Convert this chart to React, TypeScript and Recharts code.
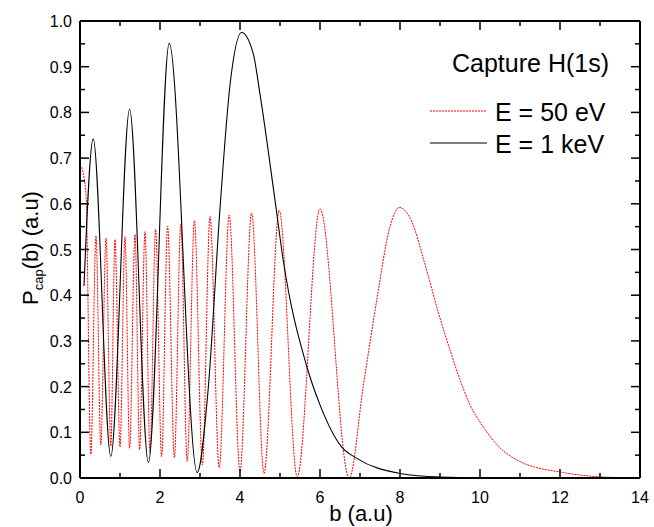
import React from "react";
import { LineChart, Line, XAxis, YAxis } from "recharts";

// E = 50 eV, P_cap(b) (b in a.u.)
const b50 = [0.04, 0.15, 0.27, 0.4, 0.52, 0.65, 0.77, 0.875, 1.0, 1.125, 1.24, 1.375, 1.49, 1.625, 1.75, 1.89, 2.04, 2.19, 2.36, 2.52, 2.68, 2.86, 3.06, 3.25, 3.48, 3.73, 4.0, 4.29, 4.6, 4.98, 5.43, 6.0, 6.73, 7.08, 7.42, 7.75, 7.98, 8.3, 8.6, 9.0, 9.25, 9.5, 9.75, 10.08, 10.5, 11.0, 12.08, 13.1, 14.0];
const p50 = [0.68, 0.62, 0.052, 0.53, 0.072, 0.525, 0.07, 0.522, 0.068, 0.528, 0.065, 0.533, 0.062, 0.539, 0.055, 0.544, 0.047, 0.551, 0.044, 0.555, 0.036, 0.563, 0.029, 0.572, 0.022, 0.575, 0.015, 0.58, 0.01, 0.586, 0.003, 0.589, 0.0, 0.2, 0.39, 0.55, 0.592, 0.56, 0.475, 0.35, 0.28, 0.215, 0.16, 0.112, 0.066, 0.036, 0.012, 0.002, 0.0];

// E = 1 keV
const b1k = [0.1, 0.33, 0.77, 1.24, 1.71, 2.23, 2.93, 3.2, 3.5, 3.75, 4.04, 4.33, 4.5, 4.875, 5.08, 5.67, 6.0, 6.54, 6.92, 8.0, 9.0, 10.0, 14.0];
const p1k = [0.42, 0.742, 0.047, 0.807, 0.034, 0.951, 0.012, 0.19, 0.59, 0.86, 0.975, 0.929, 0.84, 0.608, 0.477, 0.244, 0.16, 0.068, 0.043, 0.01, 0.002, 0.0005, 0.0];

const xTicks = [0, 1, 2, 3, 4, 5, 6, 7, 8, 9, 10, 11, 12, 13, 14];
const yTicks = [0, 0.05, 0.1, 0.15, 0.2, 0.25, 0.3, 0.35, 0.4, 0.45, 0.5, 0.55, 0.6, 0.65, 0.7, 0.75, 0.8, 0.85, 0.9, 0.95, 1.0];

const data50 = b50.map((b, i) => ({ b, p: p50[i] }));
const data1k = b1k.map((b, i) => ({ b, p: p1k[i] }));

const FONT = "'Liberation Sans', Arial, sans-serif";
const MAJOR = 9;
const MINOR = 5;

const isMajorX = (v: number) => Math.round(v) % 2 === 0;
const isMajorY = (v: number) => Math.round(v * 100) % 10 === 0;

const BottomTick = ({ x, y, payload }: any) => {
  const major = isMajorX(payload.value);
  return (
    <g>
      <line x1={x} x2={x} y1={y} y2={y - (major ? MAJOR : MINOR)} stroke="#000" strokeWidth={1.5} />
      {major && (
        <text x={x} y={y + 25} textAnchor="middle" fontSize={16} fontFamily={FONT} fill="#000">
          {payload.value}
        </text>
      )}
    </g>
  );
};

const TopTick = ({ x, y, payload }: any) => {
  const major = isMajorX(payload.value);
  return <line x1={x} x2={x} y1={y} y2={y + (major ? MAJOR : MINOR)} stroke="#000" strokeWidth={1.5} />;
};

const LeftTick = ({ x, y, payload }: any) => {
  const major = isMajorY(payload.value);
  return (
    <g>
      <line x1={x} x2={x + (major ? MAJOR : MINOR)} y1={y} y2={y} stroke="#000" strokeWidth={1.5} />
      {major && (
        <text x={x - 8} y={y + 6} textAnchor="end" fontSize={16} fontFamily={FONT} fill="#000">
          {payload.value.toFixed(1)}
        </text>
      )}
    </g>
  );
};

const RightTick = ({ x, y, payload }: any) => {
  const major = isMajorY(payload.value);
  return <line x1={x} x2={x - (major ? MAJOR : MINOR)} y1={y} y2={y} stroke="#000" strokeWidth={1.5} />;
};

export default function App() {
  return (
    <div style={{ position: "absolute", left: 0, top: 0, width: 654, height: 527, background: "#fff" }}>
      <LineChart width={654} height={527} margin={{ top: 1, right: 4, bottom: 19, left: 20 }}>
        <XAxis
          dataKey="b"
          type="number"
          domain={[0, 14]}
          ticks={xTicks}
          interval={0}
          tickSize={0}
          tickMargin={0}
          tickLine={false}
          tick={<BottomTick />}
          height={30}
          axisLine={{ stroke: "#000", strokeWidth: 2 }}
          allowDataOverflow
        />
        <XAxis
          xAxisId="top"
          orientation="top"
          dataKey="b"
          type="number"
          domain={[0, 14]}
          ticks={xTicks}
          interval={0}
          tickSize={0}
          tickMargin={0}
          tickLine={false}
          tick={<TopTick />}
          height={20}
          axisLine={{ stroke: "#000", strokeWidth: 2 }}
          allowDataOverflow
        />
        <YAxis
          type="number"
          domain={[0, 1]}
          ticks={yTicks}
          interval={0}
          tickSize={0}
          tickMargin={0}
          tickLine={false}
          tick={<LeftTick />}
          width={60}
          axisLine={{ stroke: "#000", strokeWidth: 2 }}
          allowDataOverflow
        />
        <YAxis
          yAxisId="right"
          orientation="right"
          type="number"
          domain={[0, 1]}
          ticks={yTicks}
          interval={0}
          tickSize={0}
          tickMargin={0}
          tickLine={false}
          tick={<RightTick />}
          width={10}
          axisLine={{ stroke: "#000", strokeWidth: 2 }}
          allowDataOverflow
        />
        <Line
          data={data50}
          dataKey="p"
          type="monotone"
          stroke="#ff0000"
          strokeWidth={1}
          strokeDasharray="2 1"
          dot={false}
          isAnimationActive={false}
        />
        <Line
          data={data1k}
          dataKey="p"
          type="monotone"
          stroke="#000"
          strokeWidth={1.1}
          dot={false}
          isAnimationActive={false}
        />
      </LineChart>
      <svg width={654} height={527} style={{ position: "absolute", left: 0, top: 0, pointerEvents: "none" }}>
        <text x={452} y={72} fontSize={25} fontFamily={FONT} fill="#000">Capture H(1s)</text>
        <line x1={430} x2={487} y1={111} y2={111} stroke="#ff0000" strokeWidth={1} strokeDasharray="2 1" />
        <text x={495} y={121} fontSize={25} fontFamily={FONT} fill="#000">E = 50 eV</text>
        <line x1={430} x2={487} y1={143} y2={143} stroke="#000" strokeWidth={1} />
        <text x={495} y={153} fontSize={25} fontFamily={FONT} fill="#000">E = 1 keV</text>
        <text x={361} y={521} textAnchor="middle" fontSize={22} fontFamily={FONT} fill="#000">b (a.u)</text>
        <text transform="translate(38 248) rotate(-90)" textAnchor="middle" fontSize={22} fontFamily={FONT} fill="#000">
          P<tspan dy={5} fontSize={13}>cap</tspan><tspan dy={-5}>(b) (a.u)</tspan>
        </text>
      </svg>
    </div>
  );
}
